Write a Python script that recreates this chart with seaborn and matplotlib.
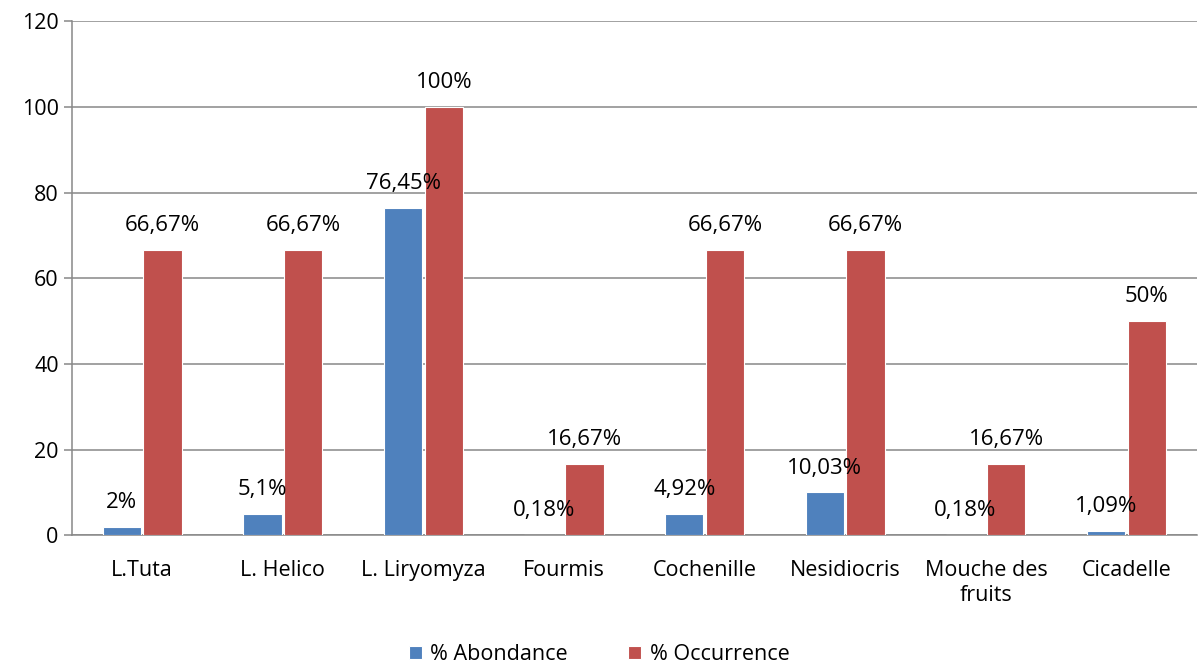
import numpy as np
import pandas as pd
import seaborn as sns
import matplotlib.pyplot as plt

categories = ['L.Tuta', 'L. Helico', 'L. Liryomyza', 'Fourmis', 'Cochenille',
              'Nesidiocris', 'Mouche des\nfruits', 'Cicadelle']
abondance = [2, 5.1, 76.45, 0.18, 4.92, 10.03, 0.18, 1.09]
occurrence = [66.67, 66.67, 100, 16.67, 66.67, 66.67, 16.67, 50]
abondance_txt = ['2%', '5,1%', '76,45%', '0,18%', '4,92%', '10,03%', '0,18%', '1,09%']
occurrence_txt = ['66,67%', '66,67%', '100%', '16,67%', '66,67%', '66,67%', '16,67%', '50%']

df = pd.DataFrame({
    'cat': categories * 2,
    'val': abondance + occurrence,
    'serie': ['% Abondance'] * 8 + ['% Occurrence'] * 8,
})

sns.set_style('white')
plt.rcParams['font.family'] = ['Open Sans', 'DejaVu Sans']
plt.rcParams['text.color'] = 'black'

fig = plt.figure(figsize=(11.98, 6.66), dpi=100)
ax = fig.add_axes([0.060, 0.196, 0.939, 0.772])

sns.barplot(data=df, x='cat', y='val', hue='serie',
            palette=['#4F81BD', '#C0504D'], saturation=1, width=0.58, gap=0.06,
            edgecolor='white', linewidth=0.8, ax=ax, zorder=3)

# étiquettes de valeurs
for cont, txt in zip(ax.containers, [abondance_txt, occurrence_txt]):
    ax.bar_label(cont, labels=txt, padding=10, fontsize=16, color='black')

ax.set_ylim(0, 120)
ax.set_xlim(-0.5, 7.5)
ax.set_yticks(range(0, 121, 20))
ax.yaxis.grid(True, color='#888888', linewidth=1.1, zorder=0)
ax.set_axisbelow(True)
for s in ['top', 'right']:
    ax.spines[s].set_visible(False)
for s in ['left', 'bottom']:
    ax.spines[s].set_color('#888888')
    ax.spines[s].set_linewidth(1.1)

ax.set_xticks(range(8))
ax.set_xticklabels(categories, fontsize=15.5, linespacing=1.2)
ax.set_xticks(np.arange(-0.5, 8, 1), minor=True)
ax.tick_params(axis='x', which='major', length=0, pad=18, labelcolor='black')
ax.tick_params(axis='x', which='minor', length=8, color='#888888', width=1.1)
ax.tick_params(axis='y', length=6, color='#888888', width=1.1, labelsize=15.5,
               labelcolor='black', left=True)
ax.set_xlabel('')
ax.set_ylabel('')

handles, labels = ax.get_legend_handles_labels()
ax.get_legend().remove()
fig.legend(handles, labels, loc='center', bbox_to_anchor=(0.5, 0.017), ncol=2,
           frameon=False, fontsize=15.5, handlelength=0.6, handleheight=0.6,
           columnspacing=2.8, handletextpad=0.4, labelcolor='black')

fig.savefig('out.png', dpi=100)
